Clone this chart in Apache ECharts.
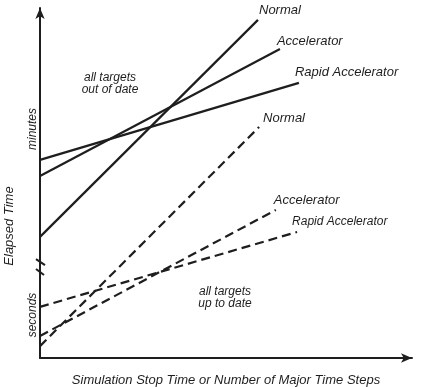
<!DOCTYPE html>
<html>
<head>
<meta charset="utf-8">
<script src="https://cdn.jsdelivr.net/npm/echarts@6/dist/echarts.min.js"></script>
<style>
html,body{margin:0;padding:0;background:#fff;}
#c{width:436px;height:387px;}
</style>
</head>
<body>
<div id="c"></div>
<script>
// Conceptual data (arbitrary units): [x, elapsed time]
var seriesNames = ['Normal', 'Accelerator', 'Rapid Accelerator'];
var outOfDateNormal = [[0, 34.6], [58.6, 96.6]];
var outOfDateAccelerator = [[0, 52.0], [64.5, 88.3]];
var outOfDateRapid = [[0, 56.6], [69.6, 78.6]];
var upToDateNormal = [[0, 3.4], [58.9, 66.0]];
var upToDateAccelerator = [[0, 6.3], [63.4, 42.3]];
var upToDateRapid = [[0, 14.6], [69.1, 36.0]];
var axisBreak = [23.7, 27.1];
var xTitle = 'Simulation Stop Time or Number of Major Time Steps';
var yTitle = 'Elapsed Time';
var upperUnit = 'minutes';
var lowerUnit = 'seconds';
var noteOut = 'all targets\nout of date';
var noteUp = 'all targets\nup to date';

var FONT = '"Liberation Sans", Arial, sans-serif';
var INK = '#1e1e1e';

function mk(name, data, dashed, off, fs) {
  return {
    type: 'line',
    name: name,
    data: data,
    symbol: 'none',
    silent: true,
    lineStyle: {color: INK, width: 2.2, type: dashed ? [9, 5] : 'solid'},
    endLabel: {
      show: true,
      formatter: name,
      distance: 0,
      offset: off,
      fontFamily: FONT,
      fontStyle: 'italic',
      fontSize: fs || 13,
      color: INK
    },
    animation: false
  };
}

var chart = echarts.init(document.getElementById('c'), null, {renderer: 'canvas'});
chart.setOption({
  animation: false,
  backgroundColor: '#fff',
  grid: {left: 40, right: 24, top: 8, bottom: 29},
  xAxis: {
    type: 'value', min: 0, max: 100,
    axisLine: {show: true, lineStyle: {color: INK, width: 2}, symbol: ['none', 'arrow'], symbolSize: [7, 11]},
    axisTick: {show: false}, axisLabel: {show: false}, splitLine: {show: false}
  },
  yAxis: {
    type: 'value', min: 0, max: 100,
    axisLine: {show: true, lineStyle: {color: INK, width: 2}, symbol: ['none', 'arrow'], symbolSize: [7, 11]},
    axisTick: {show: false}, axisLabel: {show: false}, splitLine: {show: false}
  },
  series: [
    mk(seriesNames[0], outOfDateNormal, false, [1, -10]),
    mk(seriesNames[1], outOfDateAccelerator, false, [-3, -8]),
    mk(seriesNames[2], outOfDateRapid, false, [-4, -11]),
    mk(seriesNames[0], upToDateNormal, true, [4, -9]),
    mk(seriesNames[1], upToDateAccelerator, true, [-2, -10]),
    mk(seriesNames[2], upToDateRapid, true, [-5, -10], 12)
  ]
});

var x0 = chart.convertToPixel({gridIndex: 0}, [0, 0])[0];
var yb0 = chart.convertToPixel({gridIndex: 0}, [0, axisBreak[0]])[1];
var yb1 = chart.convertToPixel({gridIndex: 0}, [0, axisBreak[1]])[1];
function T(text, x, y, rot, fs) {
  return {type: 'text', x: x, y: y, rotation: rot || 0, silent: true,
    style: {text: text, textAlign: 'center', textVerticalAlign: 'middle', lineHeight: 12,
      fontFamily: FONT, fontStyle: 'italic', fontSize: fs || 12, fill: INK}};
}
chart.setOption({
  graphic: [
    {type: 'rect', shape: {x: x0 - 6, y: yb1 + 1, width: 12, height: yb0 - yb1 - 2}, style: {fill: '#fff'}, silent: true},
    {type: 'line', shape: {x1: x0 - 4, y1: yb1 - 4, x2: x0 + 5, y2: yb1 + 2}, style: {stroke: INK, lineWidth: 2}, silent: true},
    {type: 'line', shape: {x1: x0 - 4, y1: yb0 - 6, x2: x0 + 4, y2: yb0}, style: {stroke: INK, lineWidth: 2}, silent: true},
    T(upperUnit, 33, 129, Math.PI / 2),
    T(lowerUnit, 33, 315, Math.PI / 2),
    T(yTitle, 9, 226, Math.PI / 2, 13),
    T(xTitle, 226, 380, 0, 13),
    T(noteOut, 110, 84, 0),
    T(noteUp, 225, 298, 0)
  ]
});
</script>
</body>
</html>
